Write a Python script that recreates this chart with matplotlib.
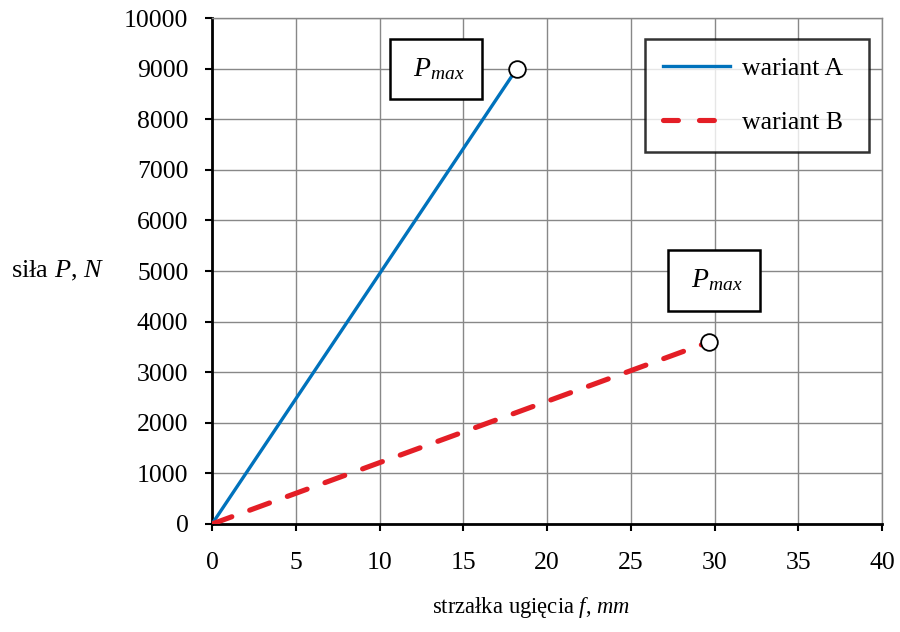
import matplotlib
matplotlib.use('Agg')
import matplotlib.pyplot as plt

# data
f_a = [0, 18.2]
p_a = [0, 9000]
f_b = [0, 29.7]
p_b = [0, 3600]
x_ticks = [0, 5, 10, 15, 20, 25, 30, 35, 40]
y_ticks = [0, 1000, 2000, 3000, 4000, 5000, 6000, 7000, 8000, 9000, 10000]

plt.rcParams['font.family'] = ['Liberation Serif', 'DejaVu Serif']
plt.rcParams['mathtext.fontset'] = 'custom'
plt.rcParams['mathtext.rm'] = 'Liberation Serif'
plt.rcParams['mathtext.it'] = 'Liberation Serif:italic'

fig = plt.figure(figsize=(9, 6.32), dpi=100)
ax = fig.add_axes([0.2356, 0.1709, 0.7444, 0.8006])

ax.plot(f_a, p_a, color='#0072BC', lw=2.4, label='wariant A', zorder=3)
ax.plot(f_b, p_b, color='#E41E26', lw=3.7, ls=(0, (4.1, 3.7)), dash_capstyle='round',
        label='wariant B', zorder=3)
ax.plot([f_a[-1], f_b[-1]], [p_a[-1], p_b[-1]], 'o', ms=12, mfc='white', mec='black', mew=1.3, zorder=4)

ax.set_xlim(0, 40)
ax.set_ylim(0, 10000)
ax.set_xticks(x_ticks)
ax.set_yticks(y_ticks)
ax.grid(True, color='#888888', lw=1.0)
ax.tick_params(labelsize=18.5, length=5, width=1.5, color='black', pad=12)
ax.tick_params(axis='x', pad=15.5)
for s in ['left', 'bottom']:
    ax.spines[s].set_linewidth(2)
for s in ['top', 'right']:
    ax.spines[s].set_color('#888888')
    ax.spines[s].set_linewidth(1.0)

ax.set_xlabel('strzałka ugięcia $\\mathit{f}$, $\\mathit{mm}$', fontsize=16.3, va='center')
ax.xaxis.set_label_coords(0.476, -0.166)
ax.set_ylabel('siła $\\mathit{P}$, $\\mathit{N}$', fontsize=19, rotation=0, ha='center', va='center')
ax.yaxis.set_label_coords(-0.231, 0.50)

box = dict(boxstyle='square,pad=0.62', fc='white', ec='black', lw=1.8)
ax.text(13.37, 8990, '$\\;P_{max}\\;$', fontsize=20, ha='center', va='center', bbox=box, zorder=5)
ax.text(29.97, 4810, '$\\;P_{max}\\;$', fontsize=20, ha='center', va='center', bbox=box, zorder=5)

leg = ax.legend(loc='upper left', bbox_to_anchor=(0.6463, 0.9585, 0.3343, 0), mode='expand',
                fontsize=18.5, frameon=True, fancybox=False, edgecolor='black',
                borderpad=0.7, labelspacing=1.2, handlelength=2.62, handletextpad=0.45,
                borderaxespad=0)
leg.get_frame().set_linewidth(1.8)
leg.legend_handles[1].set_linestyle((0, (2.9, 4.1)))

fig.savefig('out.png', dpi=100)
